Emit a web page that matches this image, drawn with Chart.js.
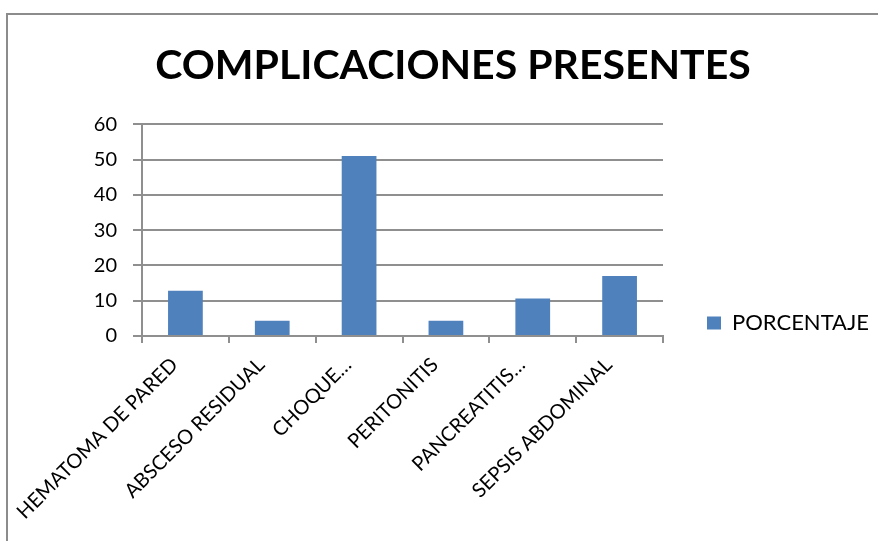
<!DOCTYPE html>
<html>
<head>
<meta charset="utf-8">
<script src="https://cdn.jsdelivr.net/npm/chart.js@4/dist/chart.umd.min.js"></script>
<style>
  html, body { margin: 0; padding: 0; background: #fff; }
  #wrap { position: relative; width: 878px; height: 541px; overflow: hidden; }
  #frame { position: absolute; left: 6px; top: 13px; width: 900px; height: 600px;
           border-left: 2px solid #8c8c8c; border-top: 2px solid #8c8c8c; }
  canvas { position: absolute; left: 0; top: 0; }
</style>
</head>
<body>
<div id="wrap">
  <div id="frame"></div>
  <canvas id="chart" width="878" height="541"></canvas>
</div>
<script>
// Data
const categories = ['HEMATOMA DE PARED', 'ABSCESO RESIDUAL', 'CHOQUE…', 'PERITONITIS', 'PANCREATITIS…', 'SEPSIS ABDOMINAL'];
const porcentaje = [12.8, 4.3, 51, 4.3, 10.6, 17];
const yTicks = [0, 10, 20, 30, 40, 50, 60];

const gridColor = '#8f8f8f';
const fontFamily = 'Lato, "Open Sans", sans-serif';

new Chart(document.getElementById('chart'), {
    type: 'bar',
    data: {
        labels: categories,
        datasets: [{
            label: 'PORCENTAJE',
            data: porcentaje,
            backgroundColor: '#4f81bd',
            borderWidth: 0,
            barPercentage: 0.4,
            categoryPercentage: 1.0
        }]
    },
    options: {
        responsive: false,
        animation: false,
        layout: { padding: { left: 36, right: 8, top: 0, bottom: 0 } },
        scales: {
            x: {
                grid: { drawOnChartArea: false, color: gridColor, lineWidth: 2, tickLength: 7, offset: true },
                border: { color: gridColor, width: 2 },
                ticks: {
                    color: '#000', font: { family: fontFamily, size: 20 },
                    minRotation: 45, maxRotation: 45, autoSkip: false, padding: 10, labelOffset: -11
                },
                afterFit: (scale) => { scale.height = 205; }
            },
            y: {
                min: 0, max: 60,
                afterBuildTicks: (scale) => { scale.ticks = yTicks.map(v => ({ value: v })); },
                grid: { color: gridColor, lineWidth: 2, tickLength: 9 },
                border: { color: gridColor, width: 2 },
                ticks: { color: '#000', font: { family: fontFamily, size: 20 }, padding: 16 },
                afterFit: (scale) => { scale.width = 106; }
            },
            // hidden spacer on the right, keeps the legend away from the plot
            spacer: {
                type: 'linear', position: 'right', display: false,
                afterFit: (scale) => { scale.width = 42; }
            }
        },
        plugins: {
            title: {
                display: true,
                text: 'COMPLICACIONES PRESENTES',
                color: '#000',
                font: { family: fontFamily, size: 41, weight: 'bold' },
                padding: { top: 41, bottom: 34 }
            },
            legend: {
                display: true,
                position: 'right',
                align: 'end',
                fullSize: false,
                maxWidth: 165,
                labels: {
                    color: '#000',
                    boxWidth: 14, boxHeight: 13,
                    padding: 2,
                    font: { family: fontFamily, size: 22 }
                }
            },
            tooltip: { enabled: false }
        }
    }
});
</script>
</body>
</html>
